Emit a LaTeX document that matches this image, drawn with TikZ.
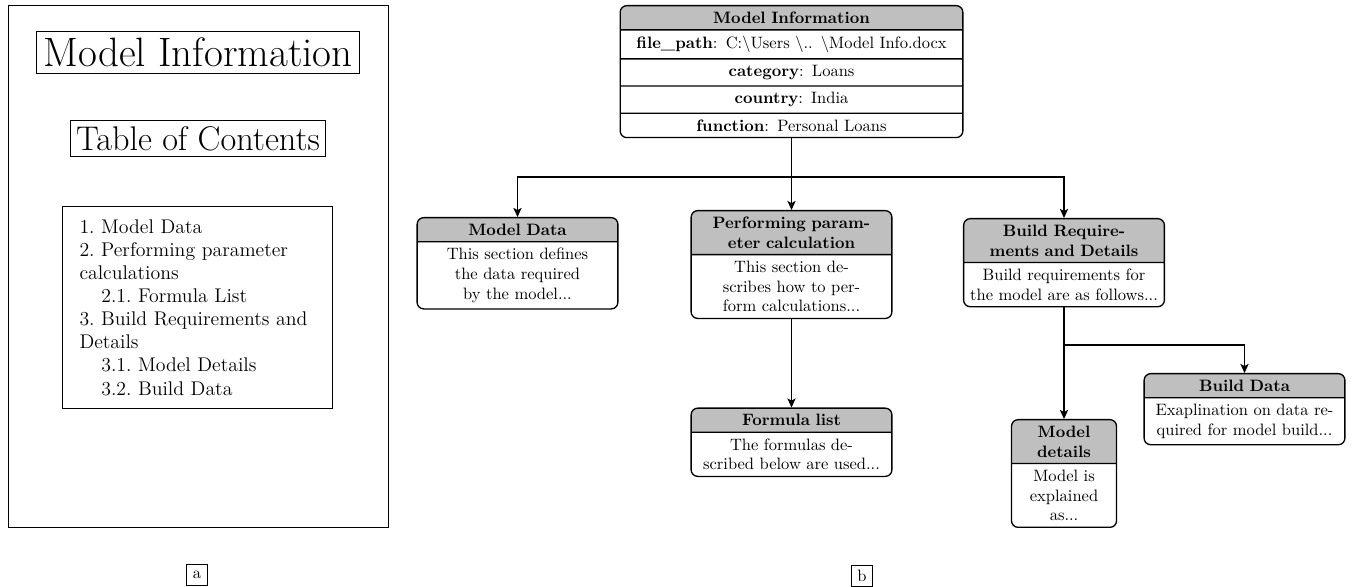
\documentclass[tikz,border=0pt]{standalone}
\usepackage{tikz}
\usetikzlibrary{shapes.multipart,arrows.meta,positioning}

\tikzset{
  framebox/.style={draw, inner sep=4pt},
  tagbox/.style={draw, inner sep=0pt, minimum width=13pt, minimum height=12.5pt},
  secbox/.style={rectangle split, rectangle split parts=2, draw, thick,
    rounded corners=4pt, rectangle split part fill={gray!50,white},
    text width=115pt, align=center, anchor=north, inner ysep=3.4pt},
  infobox/.style={secbox, rectangle split parts=5, text width=201pt},
  conn/.style={thick, -{Stealth[length=5.5pt,width=5pt,inset=1.3pt]}},
}

\begin{document}
\begin{tikzpicture}[x=0.606pt,y=-0.606pt]
    \useasboundingbox (0,0) rectangle (1352,587);

    % --- (a) document page
    \draw (8,5) rectangle (388,527);
    \node[framebox,font=\Huge] (title) at (198,52.5) {Model Information};
    \node[framebox,font=\huge,inner sep=3.5pt] (toc) at (198,138.5) {Table of Contents};
    \node[draw,font=\large,align=left,text width=143pt,inner xsep=10.5pt,inner ysep=8pt]
      (contents) at (197.5,307.5)
      {1.~Model Data\\
       2.~Performing parameter\\
       calculations\\
       \hspace*{1.1em}2.1.~Formula List\\
       3.~Build Requirements and\\
       Details\\
       \hspace*{1.1em}3.1.~Model Details\\
       \hspace*{1.1em}3.2.~Build Data};
    \node[tagbox] (taga) at (197,575) {a};

    % --- (b) structure tree
    \node[infobox] (info) at (791.5,5)
      {\textbf{Model Information}
       \nodepart{two}\textbf{file\_path}: C:\textbackslash Users \textbackslash.. \textbackslash Model Info.docx
       \nodepart{three}\textbf{category}: Loans
       \nodepart{four}\textbf{country}: India
       \nodepart{five}\textbf{function}: Personal Loans};

    \node[secbox] (mdata) at (517.5,217)
      {\textbf{Model Data}\nodepart{two}This section defines\\the data required\\by the model...};
    \node[secbox] (perf) at (791.5,210)
      {\textbf{Performing param-\\eter calculation}\nodepart{two}This section de-\\scribes how to per-\\form calculations...};
    \node[secbox] (build) at (1064,218)
      {\textbf{Build Require-\\ments and Details}\nodepart{two}Build requirements for\\the model are as follows...};
    \node[secbox] (formula) at (791.5,407.5)
      {\textbf{Formula list}\nodepart{two}The formulas de-\\scribed below are used...};
    \node[secbox,text width=57pt] (mdet) at (1064,419)
      {\textbf{Model\\details}\nodepart{two}Model is\\explained\\as...};
    \node[secbox] (bdata) at (1244.5,373)
      {\textbf{Build Data}\nodepart{two}Exaplination on data re-\\quired for model build...};

    \coordinate (fork) at (791.5,177);
    \coordinate (fork2) at (1064,345);
    \draw[conn] (info.south) -- (fork) -| (mdata.north);
    \draw[conn] (fork) -| (build.north);
    \draw[conn] (info.south) -- (perf.north);
    \draw[conn] (perf.south) -- (formula.north);
    \draw[conn] (build.south) -- (fork2) -| (bdata.north);
    \draw[conn] (fork2) -- (mdet.north);

    \node[tagbox] (tagb) at (862,576) {b};
  \end{tikzpicture}
\end{document}
